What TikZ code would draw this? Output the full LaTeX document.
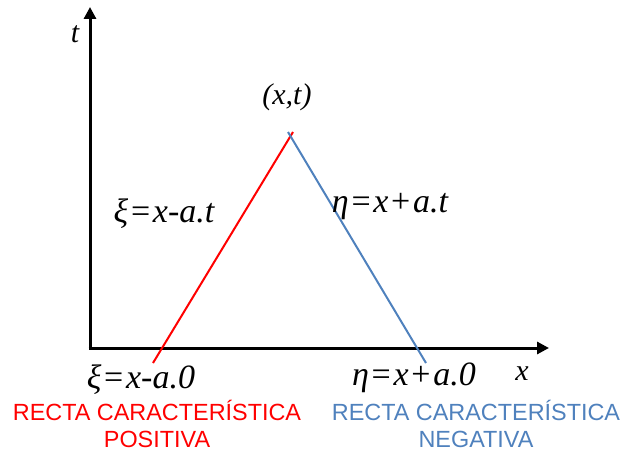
\documentclass[tikz,border=0pt]{standalone}
\usepackage{fontspec}
\setmainfont{Liberation Serif}
\newfontfamily\labelfont{Liberation Sans}
\usetikzlibrary{arrows.meta}
\definecolor{negblue}{RGB}{79,129,189}
\newcommand{\opeq}{\kern0.08em{\upshape=}\kern0.08em}
\newcommand{\opplus}{\kern0.08em{\upshape+}\kern0.08em}
\begin{document}
\begin{tikzpicture}[x=1pt,y=-1pt,
  axis/.style={line width=3pt,-{Triangle[length=12pt,width=12pt]}},
  mathlbl/.style={font=\fontsize{30}{32}\selectfont\itshape,inner sep=0pt,anchor=base},
  eqlbl/.style={font=\fontsize{34}{36}\selectfont\itshape,inner sep=0pt,anchor=base},
  caplbl/.style={font=\fontsize{23.4}{27}\selectfont\labelfont,align=center,inner sep=0pt}]
\useasboundingbox (0,0) rectangle (622,452);
\coordinate (O) at (90,348);
\coordinate (ytop) at (90,7);
\coordinate (xend) at (549,348);
\draw[axis] (90,349.5) -- (ytop);
\draw[axis] (88.5,348) -- (xend);
\coordinate (rb) at (153,363);
\coordinate (rt) at (293,132);
\coordinate (bt) at (288,132);
\coordinate (bb) at (426,363);
\draw[red,line width=2pt] (rb) -- (rt);
\draw[negblue,line width=2pt] (bt) -- (bb);
\node[mathlbl] (t) at (75,43) {t};
\node[mathlbl] (xt) at (287,105) {(x,t)};
\node[eqlbl] (xi) at (164,222) {ξ\opeq x-a.t};
\node[eqlbl] (eta) at (390,212) {η\opeq x\opplus a.t};
\node[eqlbl] (xi0) at (141,388) {ξ\opeq x-a.0};
\node[eqlbl] (eta0) at (414,385) {η\opeq x\opplus a.0};
\node[mathlbl] (x) at (522,380) {x};
\node[caplbl,text=red] (pos) at (157,424) {RECTA CARACTERÍSTICA\\POSITIVA};
\node[caplbl,text=negblue] (neg) at (476,424) {RECTA CARACTERÍSTICA\\NEGATIVA};
\end{tikzpicture}
\end{document}
